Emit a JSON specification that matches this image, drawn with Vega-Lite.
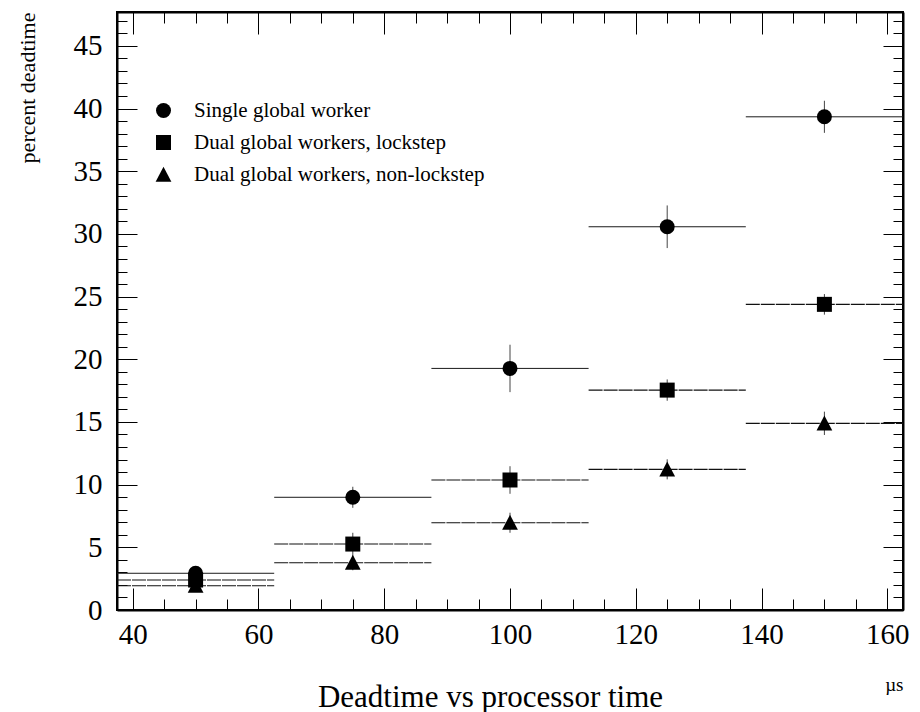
{
  "$schema": "https://vega.github.io/schema/vega-lite/v6.json",
  "width": 786,
  "height": 598,
  "autosize": {"type": "none"},
  "padding": {"left": 117, "top": 12, "right": 17, "bottom": 102},
  "background": "white",
  "config": {
    "font": "Liberation Serif",
    "view": {"stroke": "black", "strokeWidth": 2},
    "axis": {
      "domain": false,
      "grid": false,
      "tickColor": "black",
      "tickWidth": 1,
      "labelFont": "Liberation Serif",
      "titleFont": "Liberation Serif",
      "labelColor": "black",
      "titleColor": "black",
      "titleFontWeight": "normal",
      "labelOverlap": false,
      "labelFlush": false,
      "labelBound": false
    },
    "legend": {
      "labelFont": "Liberation Serif",
      "labelFontSize": 21,
      "labelColor": "black"
    }
  },
  "data": {
    "values": [
      {"series": "Single global worker", "t": 50, "lo": 37.5, "hi": 62.5, "y": 2.93, "ylo": 2.55, "yhi": 3.31},
      {"series": "Single global worker", "t": 75, "lo": 62.5, "hi": 87.5, "y": 8.99, "ylo": 8.15, "yhi": 9.83},
      {"series": "Single global worker", "t": 100, "lo": 87.5, "hi": 112.5, "y": 19.27, "ylo": 17.38, "yhi": 21.16},
      {"series": "Single global worker", "t": 125, "lo": 112.5, "hi": 137.5, "y": 30.57, "ylo": 28.87, "yhi": 32.27},
      {"series": "Single global worker", "t": 150, "lo": 137.5, "hi": 162.5, "y": 39.34, "ylo": 38.06, "yhi": 40.62},
      {"series": "Dual global workers, lockstep", "t": 50, "lo": 37.5, "hi": 62.5, "y": 2.39, "ylo": 2.09, "yhi": 2.69},
      {"series": "Dual global workers, lockstep", "t": 75, "lo": 62.5, "hi": 87.5, "y": 5.26, "ylo": 4.36, "yhi": 6.16},
      {"series": "Dual global workers, lockstep", "t": 100, "lo": 87.5, "hi": 112.5, "y": 10.37, "ylo": 9.27, "yhi": 11.47},
      {"series": "Dual global workers, lockstep", "t": 125, "lo": 112.5, "hi": 137.5, "y": 17.54, "ylo": 16.69, "yhi": 18.39},
      {"series": "Dual global workers, lockstep", "t": 150, "lo": 137.5, "hi": 162.5, "y": 24.38, "ylo": 23.56, "yhi": 25.2},
      {"series": "Dual global workers, non-lockstep", "t": 50, "lo": 37.5, "hi": 62.5, "y": 1.94, "ylo": 1.64, "yhi": 2.24},
      {"series": "Dual global workers, non-lockstep", "t": 75, "lo": 62.5, "hi": 87.5, "y": 3.77, "ylo": 3.17, "yhi": 4.37},
      {"series": "Dual global workers, non-lockstep", "t": 100, "lo": 87.5, "hi": 112.5, "y": 6.96, "ylo": 6.16, "yhi": 7.76},
      {"series": "Dual global workers, non-lockstep", "t": 125, "lo": 112.5, "hi": 137.5, "y": 11.22, "ylo": 10.42, "yhi": 12.02},
      {"series": "Dual global workers, non-lockstep", "t": 150, "lo": 137.5, "hi": 162.5, "y": 14.89, "ylo": 13.96, "yhi": 15.82}
    ]
  },
  "resolve": {"axis": {"x": "independent", "y": "independent"}},
  "layer": [
    {
      "transform": [{"filter": "datum.series === 'Single global worker'"}],
      "mark": {"type": "rule", "color": "#1a1a1a", "strokeWidth": 1},
      "encoding": {
        "x": {
          "field": "lo", "type": "quantitative",
          "scale": {"domain": [37.5, 162.5], "nice": false, "zero": false},
          "axis": {
            "orient": "bottom", "values": [40, 60, 80, 100, 120, 140, 160],
            "domain": true, "domainColor": "black", "domainWidth": 2,
            "tickSize": -22, "labelPadding": 32, "labelFontSize": 29, "labelBaseline": "top",
            "title": "Deadtime vs processor time", "titleFontSize": 31,
            "titleX": 373, "titleY": 96, "titleAlign": "center", "titleBaseline": "alphabetic", "titleAnchor": null
          }
        },
        "x2": {"field": "hi"},
        "y": {
          "field": "y", "type": "quantitative",
          "scale": {"domain": [0, 47.7], "nice": false, "zero": false},
          "axis": {
            "orient": "left", "values": [0, 5, 10, 15, 20, 25, 30, 35, 40, 45],
            "domain": true, "domainColor": "black", "domainWidth": 2,
            "tickSize": -20, "labelPadding": 35, "labelFontSize": 29, "labelBaseline": "middle",
            "title": "percent deadtime", "titleFontSize": 22, "titleAngle": 270,
            "titleX": -90, "titleY": 0, "titleAlign": "right", "titleBaseline": "middle"
          }
        }
      }
    },
    {
      "transform": [{"filter": "datum.series !== 'Single global worker'"}],
      "mark": {"type": "rule", "color": "#111111", "strokeWidth": 1.1, "strokeDash": [14, 1]},
      "encoding": {
        "x": {
          "field": "lo", "type": "quantitative",
          "scale": {"domain": [37.5, 162.5], "nice": false, "zero": false},
          "axis": {
            "orient": "bottom", "values": [40, 45, 50, 55, 60, 65, 70, 75, 80, 85, 90, 95, 100, 105, 110, 115, 120, 125, 130, 135, 140, 145, 150, 155, 160],
            "tickSize": -11, "labels": false,
            "title": "µs", "titleFontSize": 19,
            "titleX": 786, "titleY": 80, "titleAlign": "right", "titleBaseline": "alphabetic"
          }
        },
        "x2": {"field": "hi"},
        "y": {
          "field": "y", "type": "quantitative",
          "scale": {"domain": [0, 47.7], "nice": false, "zero": false},
          "axis": {
            "orient": "left", "values": [0, 1, 2, 3, 4, 5, 6, 7, 8, 9, 10, 11, 12, 13, 14, 15, 16, 17, 18, 19, 20, 21, 22, 23, 24, 25, 26, 27, 28, 29, 30, 31, 32, 33, 34, 35, 36, 37, 38, 39, 40, 41, 42, 43, 44, 45, 46, 47],
            "tickSize": -10, "labels": false, "title": null
          }
        }
      }
    },
    {
      "mark": {"type": "rule", "color": "#444444", "strokeWidth": 1},
      "encoding": {
        "x": {
          "field": "t", "type": "quantitative",
          "scale": {"domain": [37.5, 162.5], "nice": false, "zero": false},
          "axis": {"orient": "top", "values": [40, 60, 80, 100, 120, 140, 160], "domain": true, "domainColor": "black", "domainWidth": 2, "tickSize": -22, "labels": false, "title": null}
        },
        "y": {
          "field": "ylo", "type": "quantitative",
          "scale": {"domain": [0, 47.7], "nice": false, "zero": false},
          "axis": {"orient": "right", "values": [0, 5, 10, 15, 20, 25, 30, 35, 40, 45], "domain": true, "domainColor": "black", "domainWidth": 2, "tickSize": -20, "labels": false, "title": null}
        },
        "y2": {"field": "yhi"}
      }
    },
    {
      "mark": {"type": "point", "filled": true, "opacity": 1, "color": "black", "size": 225, "strokeWidth": 0},
      "encoding": {
        "x": {
          "field": "t", "type": "quantitative",
          "scale": {"domain": [37.5, 162.5], "nice": false, "zero": false},
          "axis": {
            "orient": "top", "values": [40, 45, 50, 55, 60, 65, 70, 75, 80, 85, 90, 95, 100, 105, 110, 115, 120, 125, 130, 135, 140, 145, 150, 155, 160],
            "tickSize": -11, "labels": false, "title": null
          }
        },
        "y": {
          "field": "y", "type": "quantitative",
          "scale": {"domain": [0, 47.7], "nice": false, "zero": false},
          "axis": {
            "orient": "right", "values": [0, 1, 2, 3, 4, 5, 6, 7, 8, 9, 10, 11, 12, 13, 14, 15, 16, 17, 18, 19, 20, 21, 22, 23, 24, 25, 26, 27, 28, 29, 30, 31, 32, 33, 34, 35, 36, 37, 38, 39, 40, 41, 42, 43, 44, 45, 46, 47],
            "tickSize": -10, "labels": false, "title": null
          }
        },
        "shape": {
          "field": "series", "type": "nominal",
          "scale": {
            "domain": ["Single global worker", "Dual global workers, lockstep", "Dual global workers, non-lockstep"],
            "range": ["circle", "square", "M0,-1.05L1.05,0.95L-1.05,0.95Z"]
          },
          "legend": {
            "title": null, "orient": "none", "legendX": 36, "legendY": 88,
            "symbolSize": 225, "symbolFillColor": "black", "symbolStrokeColor": "black", "symbolStrokeWidth": 0,
            "labelFontSize": 21, "labelFont": "Liberation Serif", "labelColor": "black",
            "labelOffset": 20, "rowPadding": 10, "labelLimit": 600, "padding": 0
          }
        }
      }
    }
  ]
}
